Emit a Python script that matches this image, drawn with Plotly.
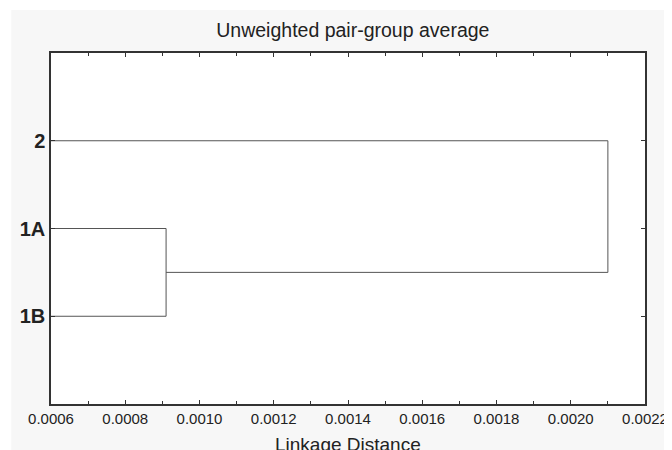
import plotly.graph_objects as go

# Data
leaves = ["1B", "1A", "2"]          # bottom to top
leaf_pos = [1, 2, 3]
merge_1A_1B = 0.00091               # linkage distance of first merge
merge_all = 0.00210                 # linkage distance of final merge
x_min = 0.0006
x_ticks = [0.0006, 0.0008, 0.0010, 0.0012, 0.0014, 0.0016, 0.0018, 0.0020, 0.0022]

# dendrogram segments
pos = dict(zip(leaves, leaf_pos))
mid = (pos["1A"] + pos["1B"]) / 2
segs = [
    ([x_min, merge_1A_1B], [pos["1A"], pos["1A"]]),
    ([x_min, merge_1A_1B], [pos["1B"], pos["1B"]]),
    ([merge_1A_1B, merge_1A_1B], [pos["1B"], pos["1A"]]),
    ([merge_1A_1B, merge_all], [mid, mid]),
    ([x_min, merge_all], [pos["2"], pos["2"]]),
    ([merge_all, merge_all], [mid, pos["2"]]),
]

xs, ys = [], []
for sx, sy in segs:
    xs += sx + [None]
    ys += sy + [None]

W, H = 672, 450
ML, MR, MT, MB = 42, 31, 45, 54
PW, PH = W - ML - MR, H - MT - MB

fig = go.Figure()
fig.add_trace(go.Scatter(x=xs, y=ys, mode="lines",
                         line=dict(color="#555555", width=1),
                         hoverinfo="skip", showlegend=False))

FONT = "Liberation Sans, Arial, sans-serif"
fig.update_layout(
    width=W, height=H,
    margin=dict(l=ML, r=MR, t=MT, b=MB),
    paper_bgcolor="#f7f7f7",
    plot_bgcolor="white",
    font=dict(family=FONT, color="#222222"),
    title=dict(text="Unweighted pair-group average", x=(ML + PW / 2) / W, xref="paper",
               xanchor="center", y=1 - 22 / H, yanchor="middle",
               font=dict(size=19.5, color="#222222")),
    showlegend=False,
)

fig.update_xaxes(
    range=[x_ticks[0], x_ticks[-1]],
    tickvals=x_ticks, ticktext=[f"{v:.4f}" for v in x_ticks],
    ticks="inside", ticklen=4, tickcolor="#333333",
    minor=dict(dtick=0.0001, ticks="inside", ticklen=3, tickcolor="#333333", showgrid=False),
    showgrid=False, zeroline=False,
    showline=True, linecolor="#333333", linewidth=1.5, mirror="ticks",
    tickfont=dict(size=15, color="#222222"),
)
fig.update_yaxes(
    range=[0, 4],
    tickvals=leaf_pos, ticktext=[f"<b>{t}</b>" for t in leaves],
    ticks="inside", ticklen=4, tickcolor="#333333",
    showgrid=False, zeroline=False,
    showline=True, linecolor="#333333", linewidth=1.5, mirror="ticks",
    tickfont=dict(size=20, color="#222222", family=FONT),
)

# thin white border strips (top / left)
fig.add_shape(type="rect", xref="paper", yref="paper",
              x0=-1, x1=2, y0=1 + (MT - 2) / PH, y1=2,
              fillcolor="white", line=dict(width=0), layer="below")
fig.add_shape(type="rect", xref="paper", yref="paper",
              x0=-1, x1=-(ML - 2) / PW, y0=-1, y1=2,
              fillcolor="white", line=dict(width=0), layer="below")

fig.add_annotation(text="Linkage Distance", xref="paper", yref="paper",
                   x=0.5, y=-28 / PH, yanchor="top", showarrow=False,
                   font=dict(size=19, color="#222222"))

fig.write_html("out.html")
